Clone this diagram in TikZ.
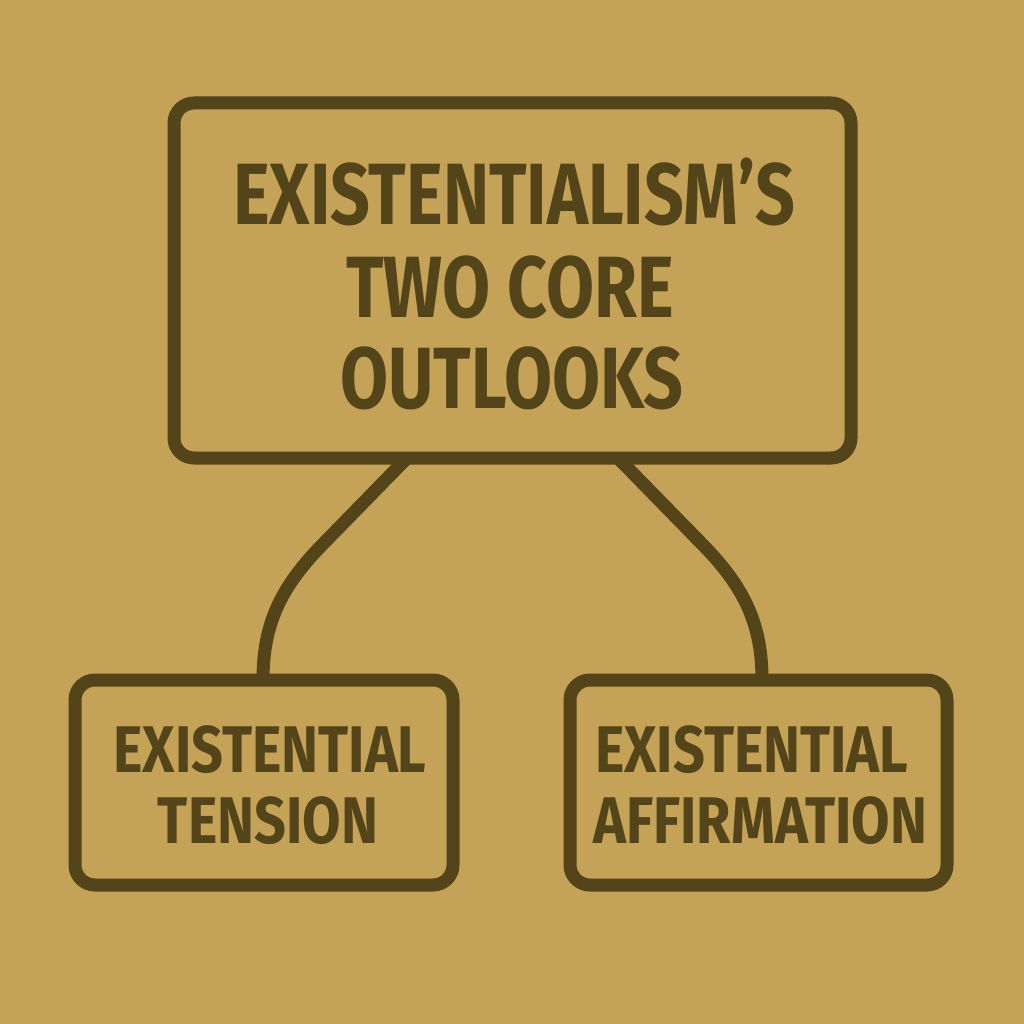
\documentclass[tikz,border=0pt]{standalone}
\usepackage{fontspec}
\newfontfamily\titlefont{Fira Sans Bold}[FakeStretch=0.80]
\newfontfamily\boxfont{Fira Sans Bold}[FakeStretch=0.845]
\definecolor{bgtan}{HTML}{C4A258}
\definecolor{ink}{HTML}{54441A}
\tikzset{
  box/.style={draw=ink, line width=13pt, rounded corners=20pt, rectangle, outer sep=0pt, inner sep=0pt},
  link/.style={draw=ink, line width=13pt},
  bigtxt/.style={text=ink, inner sep=0pt, font=\titlefont\fontsize{87}{87}\selectfont},
  smalltxt/.style={text=ink, inner sep=0pt, font=\boxfont\fontsize{66}{66}\selectfont}
}
\begin{document}
\begin{tikzpicture}[x=1pt,y=-1pt]
\useasboundingbox (0,0) rectangle (1024,1024);
\fill[bgtan] (0,0) rectangle (1024,1024);

\node[box, minimum width=677pt, minimum height=355pt] (top) at (512.5,280.5) {};
\node[box, minimum width=378pt, minimum height=205pt] (lbox) at (264,782.5) {};
\node[box, minimum width=377pt, minimum height=205pt] (rbox) at (758.5,782.5) {};

\node[bigtxt, anchor=base] (t1) at (514,225) {EXISTENTIALISM’S};
\node[bigtxt, anchor=base] (t2) at (510,317) {TWO CORE};
\node[bigtxt, anchor=base] (t3) at (512,408) {OUTLOOKS};

\node[smalltxt, anchor=base] (l1) at (270,772) {EXISTENTIAL};
\node[smalltxt, anchor=base] (l2) at (268,843) {TENSION};

\node[smalltxt, anchor=base west] (r1) at (595,772) {EXISTENTIAL};
\node[smalltxt, anchor=base west] (r2) at (593,843) {AFFIRMATION};

\coordinate (ls) at ([xshift=-105.5pt]top.south);
\coordinate (lm) at (322,545);
\coordinate (lc1) at (280,588);
\coordinate (lc2) at (263,625);
\coordinate (le) at ([xshift=-1pt]lbox.north);
\draw[link] (ls) -- (lm) .. controls (lc1) and (lc2) .. (le);

\coordinate (rs) at ([xshift=105.5pt]top.south);
\coordinate (rm) at (703,545);
\coordinate (rc1) at (745,588);
\coordinate (rc2) at (762,625);
\coordinate (re) at ([xshift=3.5pt]rbox.north);
\draw[link] (rs) -- (rm) .. controls (rc1) and (rc2) .. (re);
\end{tikzpicture}
\end{document}
